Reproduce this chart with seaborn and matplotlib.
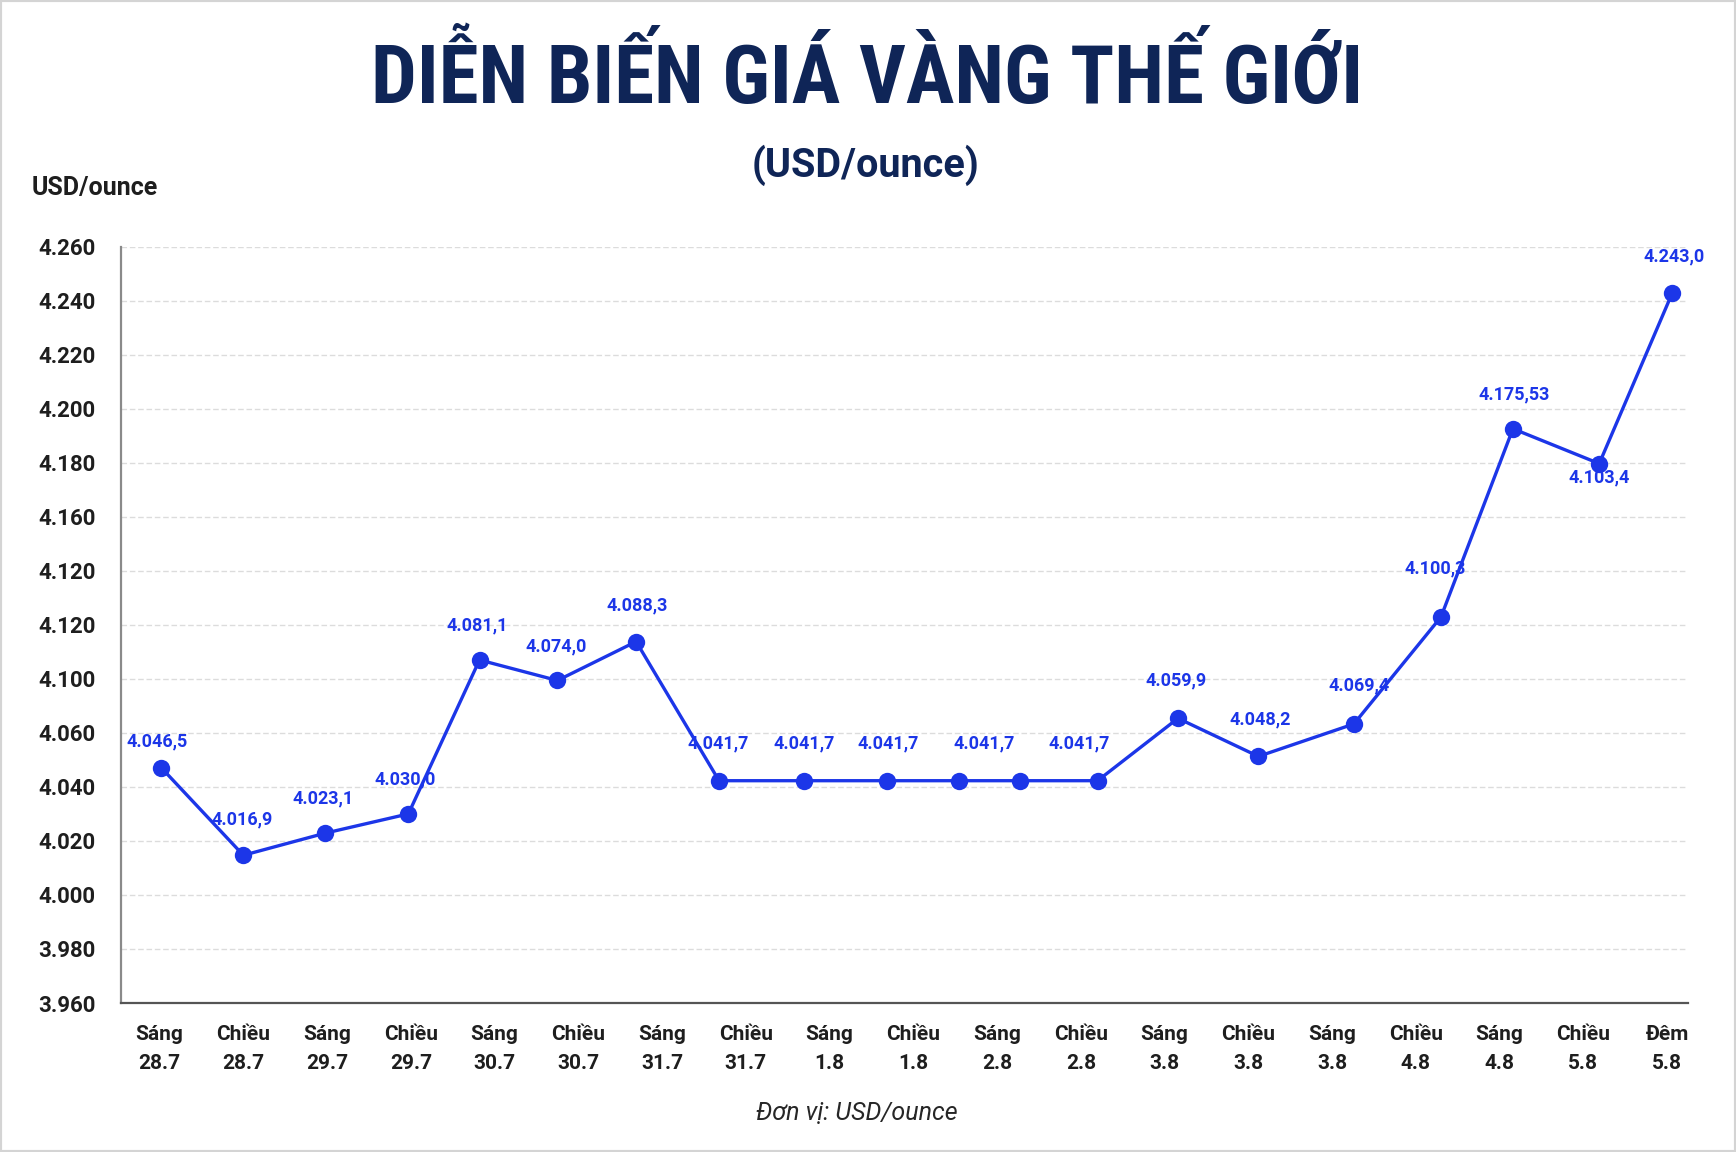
import os
import numpy as np
import pandas as pd
import matplotlib
matplotlib.use("Agg")
import matplotlib.pyplot as plt
import seaborn as sns
from matplotlib import font_manager as fm
from matplotlib.patches import Rectangle

# ---------------- data ----------------
categories = ["Sáng\n28.7", "Chiều\n28.7", "Sáng\n29.7", "Chiều\n29.7", "Sáng\n30.7",
              "Chiều\n30.7", "Sáng\n31.7", "Chiều\n31.7", "Sáng\n1.8", "Chiều\n1.8",
              "Sáng\n2.8", "Chiều\n2.8", "Sáng\n3.8", "Chiều\n3.8", "Sáng\n3.8",
              "Chiều\n4.8", "Sáng\n4.8", "Chiều\n5.8", "Đêm\n5.8"]

# point positions (in category units) and plotted heights
point_x = [0.02, 1.00, 1.98, 2.97, 3.82, 4.75, 5.69, 6.68, 7.70, 8.69,
           9.54, 10.27, 11.20, 12.16, 13.12, 14.26, 15.30, 16.16, 17.19, 18.06]
point_y = [4047.1, 4014.7, 4022.9, 4030.0, 4087.0, 4079.4, 4093.8, 4042.3, 4042.3, 4042.3,
           4042.3, 4042.3, 4042.3, 4065.4, 4051.3, 4063.3, 4102.9, 4172.6, 4159.7, 4222.7]

label_text = ["4.046,5", "4.016,9", "4.023,1", "4.030,0", "4.081,1", "4.074,0", "4.088,3",
              "4.041,7", "4.041,7", "4.041,7", "4.041,7", "4.041,7",
              "4.059,9", "4.048,2", "4.069,4", "4.100,3", "4.175,53", "4.103,4", "4.243,0"]
label_x = [-0.03, 0.99, 1.95, 2.93, 3.79, 4.74, 5.70, 6.67, 7.70, 8.70, 9.85, 10.98,
           12.14, 13.14, 14.32, 15.23, 16.17, 17.19, 18.09]
label_y = [4056.8, 4028.0, 4035.6, 4042.6, 4099.7, 4092.0, 4107.2, 4056.0, 4056.0, 4056.0,
           4056.0, 4056.0, 4079.3, 4065.0, 4077.4, 4120.8, 4185.2, 4154.4, 4236.3]

ytick_labels = ["3.960", "3.980", "4.000", "4.020", "4.040", "4.060", "4.100", "4.120",
                "4.120", "4.160", "4.180", "4.200", "4.220", "4.240", "4.260"]

title = "DIỄN BIẾN GIÁ VÀNG THẾ GIỚI"
subtitle = "(USD/ounce)"
unit_label = "USD/ounce"
caption = "Đơn vị: USD/ounce"

# ---------------- style ----------------
sns.set_theme(style="white")
plt.rcParams['font.family'] = ['Roboto', 'DejaVu Sans']

def find_font(names):
    files = {os.path.basename(f.fname).lower(): f.fname for f in fm.fontManager.ttflist}
    for n in names:
        if n.lower() in files:
            return files[n.lower()]
    return None

cond_file = find_font(["RobotoCondensed-Black.ttf", "RobotoCondensed-ExtraBold.ttf",
                       "RobotoCondensed-Bold.ttf", "DejaVuSansCondensed-Bold.ttf",
                       "LiberationSansNarrow-Bold.ttf"])
if cond_file:
    title_fp = fm.FontProperties(fname=cond_file)
else:
    title_fp = fm.FontProperties(family=['Roboto', 'DejaVu Sans'], weight='black')

BLUE = "#1c36e8"
NAVY = "#0f2557"
W, H = 1736, 1152
fig = plt.figure(figsize=(W / 100, H / 100), dpi=100)
fig.patch.set_facecolor("white")

ax = fig.add_axes([121 / W, 1 - 1003 / H, (1688 - 121) / W, (1003 - 246.7) / H])

df = pd.DataFrame({"x": point_x, "y": point_y})
sns.lineplot(data=df, x="x", y="y", ax=ax, color=BLUE, linewidth=2.4,
             marker="o", markersize=12.5, markeredgewidth=0, sort=False)

for t, lx, ly in zip(label_text, label_x, label_y):
    ax.text(lx, ly, t, color=BLUE, fontsize=13, fontweight='bold',
            ha='center', va='center')

yt = np.arange(3960, 4241, 20)
ax.set_yticks(yt)
ax.set_yticklabels(ytick_labels)
ax.set_ylim(3960, 4240)
ax.set_xticks(range(len(categories)))
ax.set_xticklabels(categories, linespacing=1.7)
ax.set_xlim(-0.461, 18.25)
ax.set_xlabel("")
ax.set_ylabel("")

ax.yaxis.grid(True, color="#dcdcdc", linestyle=(0, (4, 2)), linewidth=1.0)
ax.xaxis.grid(False)
ax.set_axisbelow(True)
for s in ["top", "right"]:
    ax.spines[s].set_visible(False)
ax.spines["left"].set_color("#8a8a8a")
ax.spines["left"].set_linewidth(1.6)
ax.spines["bottom"].set_color("#555555")
ax.spines["bottom"].set_linewidth(1.6)

ax.tick_params(axis='y', length=6.5, width=1.4, color="#8a8a8a", pad=12,
               labelsize=16, labelcolor="#1e1e1e")
ax.tick_params(axis='x', length=6.5, width=1.2, color="#666666", pad=9,
               labelsize=15, labelcolor="#1e1e1e")
for lab in ax.get_yticklabels() + ax.get_xticklabels():
    lab.set_fontweight('bold')

# titles
t = fig.text(867 / W, 1 - 103.3 / H, title, fontproperties=title_fp, fontsize=60,
             color=NAVY, ha='center', va='baseline')
fig.canvas.draw()
r = fig.canvas.get_renderer()
bb = t.get_window_extent(r)
t.set_fontsize(60 * 993 / bb.width)

fig.text(866 / W, 1 - 177 / H, subtitle, fontsize=28.5, fontweight='bold',
         color=NAVY, ha='center', va='baseline')
fig.text(31.7 / W, 1 - 195 / H, unit_label, fontsize=18, fontweight='bold',
         color="#1e1e1e", ha='left', va='baseline')
fig.text(856.7 / W, 1 - 1120 / H, caption, fontsize=18, fontstyle='italic',
         color="#262626", ha='center', va='baseline')

fig.add_artist(Rectangle((0, 0), 1, 1, transform=fig.transFigure, fill=False,
                         edgecolor="#d4d4d4", linewidth=3))

fig.savefig("out.png", dpi=100, facecolor="white")
